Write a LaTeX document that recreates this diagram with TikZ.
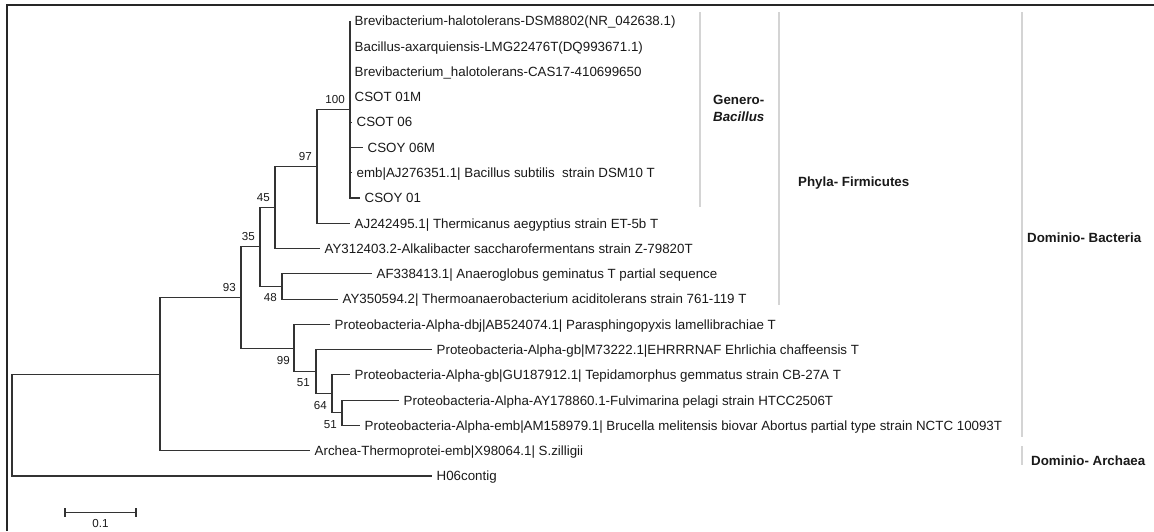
\documentclass[tikz,border=0pt]{standalone}
\usepackage{fontspec}
\setmainfont{Liberation Sans}
\usetikzlibrary{positioning}
\newcommand{\leaffont}{\fontsize{13.33}{16}\selectfont}
\newcommand{\bootfont}{\fontsize{11.6}{13}\selectfont}

\begin{document}
\begin{tikzpicture}[
  x=1pt, y=-1pt,
  branch/.style={draw=black!80, line width=1.1pt},
  leaf/.style={
    anchor=west,
    inner xsep=4.5pt, inner ysep=0pt,
    text height=9.6pt, text depth=0pt,
    font=\leaffont, text=black!90
  },
  boot/.style={
    inner sep=1pt,
    text height=8.3pt, text depth=0pt,
    font=\bootfont, text=black!90
  },
  clade/.style={draw=black!17, line width=1.5pt},
  cladelabel/.style={
    anchor=west, inner sep=0pt,
    text height=9.6pt, text depth=0pt,
    font=\leaffont\bfseries, text=black!90
  }
]
\useasboundingbox (0,0) rectangle (1154,531);

% Frame
\draw[black!85, line width=2.2pt] (7,531) -- (7,5) -- (1154,5);

% Inner nodes of the tree
\coordinate (root) at (12,425.09);
\coordinate (cell) at (160,374.13);
\coordinate (n93) at (241,297.5);
\coordinate (n35) at (260,246.94);
\coordinate (n45) at (275,207.44);
\coordinate (n97) at (317,166.36);
\coordinate (n100) at (350,109.48);
\coordinate (n48) at (282,286.44);
\coordinate (n99) at (294,348.06);
\coordinate (n51a) at (316,371.76);
\coordinate (n64) at (332,393.88);
\coordinate (n51b) at (342,412.84);

% Leaves
\node[leaf] (brevdsm) at (350,21) {Brevibacterium-halotolerans-DSM8802(NR\_042638.1)};
\node[leaf] (axar) at (350,46.28) {Bacillus-axarquiensis-LMG22476T(DQ993671.1)};
\node[leaf] (brevcas) at (350,71.56) {Brevibacterium\_halotolerans-CAS17-410699650};
\node[leaf] (csot01m) at (350,96.84) {CSOT 01M};
\node[leaf] (csot06) at (352,122.12) {CSOT 06};
\node[leaf] (csoy06m) at (363,147.4) {CSOY 06M};
\node[leaf] (subtilis) at (352,172.68) {emb|AJ276351.1| Bacillus subtilis\ \ strain DSM10 T};
\node[leaf] (csoy01) at (360,197.96) {CSOY 01};
\node[leaf] (thermi) at (350,223.24) {AJ242495.1| Thermicanus aegyptius strain ET-5b T};
\node[leaf] (alkali) at (320,248.52) {AY312403.2-Alkalibacter saccharofermentans strain Z-79820T};
\node[leaf] (anaero) at (372,273.8) {AF338413.1| Anaeroglobus geminatus T partial sequence};
\node[leaf] (thermoan) at (338,299.08) {AY350594.2| Thermoanaerobacterium aciditolerans strain 761-119 T};
\node[leaf] (paras) at (330,324.36) {Proteobacteria-Alpha-dbj|AB524074.1| Parasphingopyxis lamellibrachiae T};
\node[leaf] (ehrl) at (432,349.64) {Proteobacteria-Alpha-gb|M73222.1|EHRRRNAF Ehrlichia chaffeensis T};
\node[leaf] (tepid) at (350,374.92) {Proteobacteria-Alpha-gb|GU187912.1| Tepidamorphus gemmatus strain CB-27A T};
\node[leaf] (fulvi) at (399,400.2) {Proteobacteria-Alpha-AY178860.1-Fulvimarina pelagi strain HTCC2506T};
\node[leaf] (bruc) at (360,425.48) {Proteobacteria-Alpha-emb|AM158979.1| Brucella melitensis biovar Abortus partial type strain NCTC 10093T};
\node[leaf] (szilligii) at (310,450.76) {Archea-Thermoprotei-emb|X98064.1| S.zilligii};
\node[leaf] (h06) at (432,476.04) {H06contig};

% Branches
\draw[branch] (root) |- (cell);
\draw[branch] (root) |- (h06.west);
\draw[branch] (cell) |- (n93);
\draw[branch] (cell) |- (szilligii.west);
\draw[branch] (n93) |- (n35);
\draw[branch] (n93) |- (n99);
\draw[branch] (n35) |- (n45);
\draw[branch] (n35) |- (n48);
\draw[branch] (n45) |- (n97);
\draw[branch] (n45) |- (alkali.west);
\draw[branch] (n97) |- (n100);
\draw[branch] (n97) |- (thermi.west);
\foreach \l in {brevdsm,axar,brevcas,csot01m,csot06,csoy06m,subtilis,csoy01}
  \draw[branch] (n100) |- (\l.west);
\draw[branch] (n48) |- (anaero.west);
\draw[branch] (n48) |- (thermoan.west);
\draw[branch] (n99) |- (paras.west);
\draw[branch] (n99) |- (n51a);
\draw[branch] (n51a) |- (ehrl.west);
\draw[branch] (n51a) |- (n64);
\draw[branch] (n64) |- (tepid.west);
\draw[branch] (n64) |- (n51b);
\draw[branch] (n51b) |- (fulvi.west);
\draw[branch] (n51b) |- (bruc.west);

% Bootstrap values
\node[boot, above left=5pt and 4pt of n100] (b100) {100};
\node[boot, above left=5pt and 4pt of n97] (b97) {97};
\node[boot, above left=5pt and 4pt of n45] (b45) {45};
\node[boot, above left=5pt and 4pt of n35] (b35) {35};
\node[boot, above left=5pt and 4pt of n93] (b93) {93};
\node[boot, below left=5.5pt and 4pt of n48] (b48) {48};
\node[boot, below left=6.5pt and 3pt of n99] (b99) {99};
\node[boot, below left=5.5pt and 5pt of n51a] (b51a) {51};
\node[boot, below left=6.5pt and 4pt of n64] (b64) {64};
\node[boot, below left=6.5pt and 4pt of n51b] (b51b) {51};

% Clade bars
\draw[clade] (700,12) -- (700,207);
\draw[clade] (779,12) -- (779,305);
\draw[clade] (1022,12) -- (1022,437);
\draw[clade] (1022,446) -- (1022,465);

% Clade labels
\node[anchor=north west, inner sep=0pt, align=left, text=black!90,
  font=\fontsize{13.33}{17}\selectfont\bfseries] (genero) at (713,95)
{Genero-\\\textit{Bacillus}};
\node[cladelabel] (firmi) at (798,182) {Phyla- Firmicutes};
\node[cladelabel] (dbact) at (1027,238) {Dominio- Bacteria};
\node[cladelabel] (darch) at (1031,461) {Dominio- Archaea};

% Scale bar
\draw[branch] (65,508) -- (65,517) (65,512.5) -- (136,512.5) (136,508) -- (136,517);
\node[boot] (scale) at (100.5,523.5) {0.1};

\end{tikzpicture}
\end{document}
